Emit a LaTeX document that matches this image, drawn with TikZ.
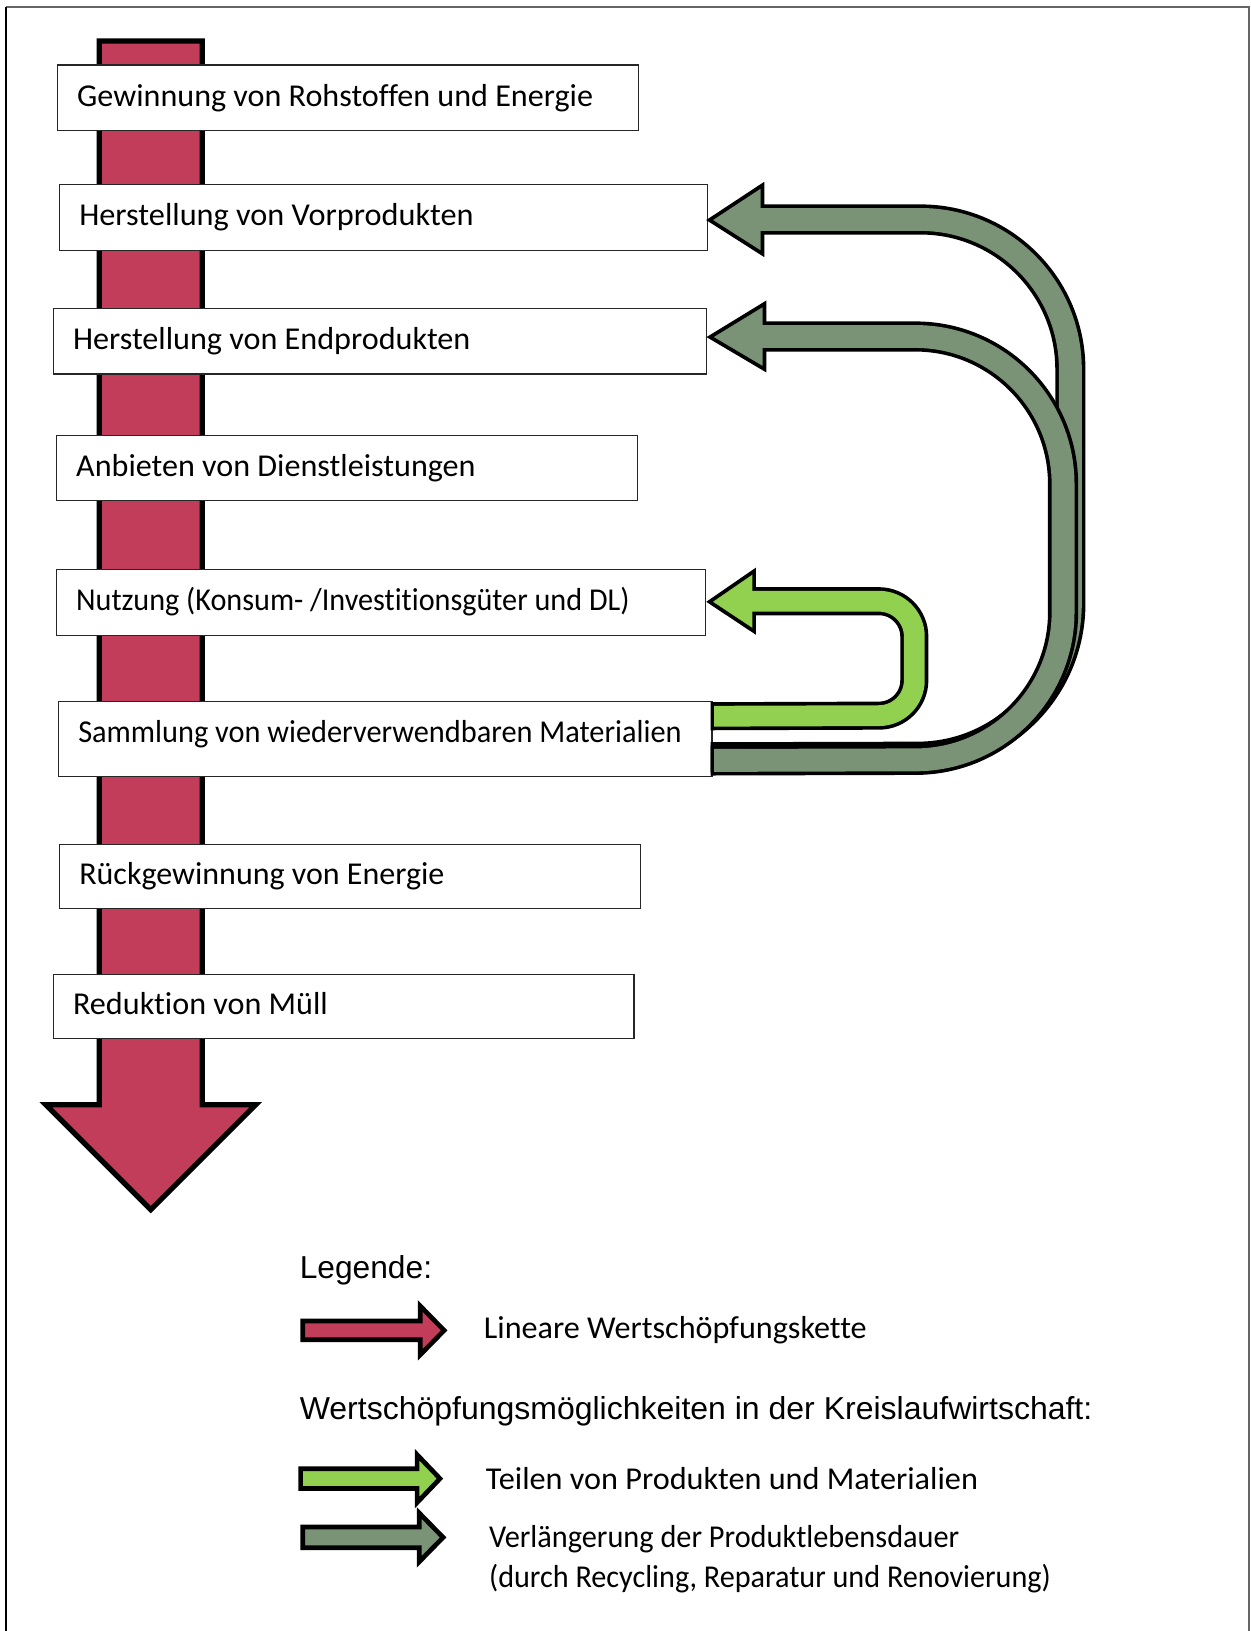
\documentclass[tikz,border=0pt]{standalone}
\usepackage{fontspec}
\usepackage{graphicx}
\setmainfont{Carlito}[Ligatures=NoCommon]
\newfontfamily\arialf{Liberation Sans}
\usetikzlibrary{calc}
\definecolor{redc}{RGB}{194,61,89}
\definecolor{darkg}{RGB}{122,146,118}
\definecolor{lightg}{RGB}{146,208,80}
\newcommand\bfnt{\fontsize{30.6pt}{37pt}\selectfont}
\newcommand\afnt{\arialf\fontsize{30.5pt}{37pt}\selectfont}
% box text: #1 = inner width of box, #2 = width of the printed text
\newcommand\boxtxt[3]{\makebox[#1][l]{\resizebox{#2}{\height}{#3}}}
\newcommand\wtxt[2]{\resizebox{#1}{\height}{#2}}
\begin{document}
\begin{tikzpicture}[x=1pt,y=-1pt,
  box/.style={draw=black!85, line width=1.1pt, fill=white, anchor=north west,
    inner xsep=18.7pt, inner ysep=0pt, text height=23pt, text depth=7pt, font=\bfnt},
  lbl/.style={anchor=base west, inner sep=0pt, font=\bfnt},
  albl/.style={anchor=base west, inner sep=0pt, font=\afnt},
  headp/.style={draw=black, line width=3.5pt, line join=miter},
  legarrow/.style={draw=black, line width=4.5pt, line join=miter},
  darkout/.style={draw=black, line width=29pt, line cap=butt},
  darkin/.style={draw=darkg, line width=22pt, line cap=butt},
  lightout/.style={draw=black, line width=27pt, line cap=butt},
  lightin/.style={draw=lightg, line width=20pt, line cap=butt}]
\useasboundingbox (0,0) rectangle (1202,1568);
\fill[white] (0,0) rectangle (1202,1568);
% frame
\draw[black!60, line width=1.5pt] (1201,1580) -- (1201,6.7) -- (5.8,6.7);
\draw[black, line width=1.5pt] (5.8,6.7) -- (5.8,1580);

% linear chain arrow
\filldraw[fill=redc, draw=black, line width=5pt, line join=miter]
  (95.5,39.5) -- (194.5,39.5) -- (194.5,1062) -- (246,1062) -- (145,1163)
  -- (44,1062) -- (95.5,1062) -- cycle;

% boxes
\node[box, minimum width=558pt, minimum height=63pt] (b1) at (55,62)
  {\boxtxt{520.6pt}{496pt}{Gewinnung von Rohstoffen und Energie}};
\node[box, minimum width=623pt, minimum height=63pt] (b2) at (57,177)
  {\boxtxt{585.6pt}{379pt}{Herstellung von Vorprodukten}};
\node[box, minimum width=628pt, minimum height=63pt] (b3) at (51,296)
  {\boxtxt{590.6pt}{382pt}{Herstellung von Endprodukten}};
\node[box, minimum width=558pt, minimum height=63pt] (b4) at (54,418)
  {\boxtxt{520.6pt}{384pt}{Anbieten von Dienstleistungen}};
\node[box, minimum width=624pt, minimum height=63pt] (b5) at (54,547)
  {\boxtxt{586.6pt}{532pt}{Nutzung (Konsum- /Investitionsgüter und DL)}};
\node[box, minimum width=628pt, minimum height=72pt, text depth=17pt] (b6) at (56,674)
  {\boxtxt{590.6pt}{580pt}{Sammlung von wiederverwendbaren Materialien}};
\node[box, minimum width=558pt, minimum height=62pt] (b7) at (57,811)
  {\boxtxt{520.6pt}{351pt}{Rückgewinnung von Energie}};
\node[box, minimum width=558pt, minimum height=62pt] (b8) at (51,936)
  {\boxtxt{520.6pt}{245pt}{Reduktion von Müll}};

% connector end points
\coordinate (Cs) at ($(b6.east)+(-2,-22)$);
\coordinate (Ct) at ($(b5.east)+(3,-0.5)$);
\coordinate (As) at ($(b6.east)+(-2,17.5)$);
\coordinate (At) at ($(b2.east)+(1,2.5)$);
\coordinate (Bs) at ($(b6.east)+(-2,20.5)$);
\coordinate (Bt) at ($(b3.east)+(2.5,-4)$);

% light green: sharing (Sammlung -> Nutzung)
\draw[lightout] (Cs) -- (845,688) arc[start angle=90,end angle=0,radius=34]
  -- (879,612) arc[start angle=0,end angle=-90,radius=34] -- (725,578);
\filldraw[headp, fill=lightg] (Ct) -- (725,549) -- (725,607) -- cycle;
\draw[lightin] ($(Cs)+(3.5,0)$) -- (845,688) arc[start angle=90,end angle=0,radius=34]
  -- (879,612) arc[start angle=0,end angle=-90,radius=34] -- (721,578);

% dark green A: Sammlung -> Vorprodukte
\draw[darkout] (As) -- (882,727.5) arc[start angle=90,end angle=0,radius=147]
  -- (1029,355) arc[start angle=0,end angle=-90,radius=144] -- (733,211);
\filldraw[headp, fill=darkg] (At) -- (733,178) -- (733,244) -- cycle;
\draw[darkin] ($(As)+(3.5,0)$) -- (882,727.5) arc[start angle=90,end angle=0,radius=147]
  -- (1029,355) arc[start angle=0,end angle=-90,radius=144] -- (729,211);

% dark green B: Sammlung -> Endprodukte
\draw[darkout] (Bs) -- (880,730.5) arc[start angle=90,end angle=0,radius=142]
  -- (1022,465.5) arc[start angle=0,end angle=-90,radius=142] -- (735,323.5);
\filldraw[headp, fill=darkg] (Bt) -- (735,292) -- (735,355) -- cycle;
\draw[darkin] ($(Bs)+(3.5,0)$) -- (880,730.5) arc[start angle=90,end angle=0,radius=142]
  -- (1022,465.5) arc[start angle=0,end angle=-90,radius=142] -- (731,323.5);

% legend
\node[albl] (leg) at (288,1229) {Legende:};
\filldraw[legarrow, fill=redc] (291,1270) -- (404,1270) -- (404,1255.5) -- (427,1279)
  -- (404,1302.5) -- (404,1288) -- (291,1288) -- cycle;
\node[lbl] (l1) at (465,1287) {\wtxt{368pt}{Lineare Wertschöpfungskette}};
\node[albl] (leg2) at (288,1365) {\wtxt{762pt}{Wertschöpfungsmöglichkeiten in der Kreislaufwirtschaft:}};
\filldraw[legarrow, fill=lightg] (289,1412) -- (401,1412) -- (401,1398.5) -- (423,1421.5)
  -- (401,1444.5) -- (401,1431) -- (289,1431) -- cycle;
\node[lbl] (l2) at (467,1432) {\wtxt{473pt}{Teilen von Produkten und Materialien}};
\filldraw[legarrow, fill=darkg] (291,1468) -- (403,1468) -- (403,1454.5) -- (426,1478)
  -- (403,1501.5) -- (403,1488) -- (291,1488) -- cycle;
\node[lbl] (l3) at (470,1488) {\wtxt{452pt}{Verlängerung der Produktlebensdauer}};
\node[lbl] (l4) at (470,1526) {\wtxt{540pt}{(durch Recycling, Reparatur und Renovierung)}};
\end{tikzpicture}
\end{document}
